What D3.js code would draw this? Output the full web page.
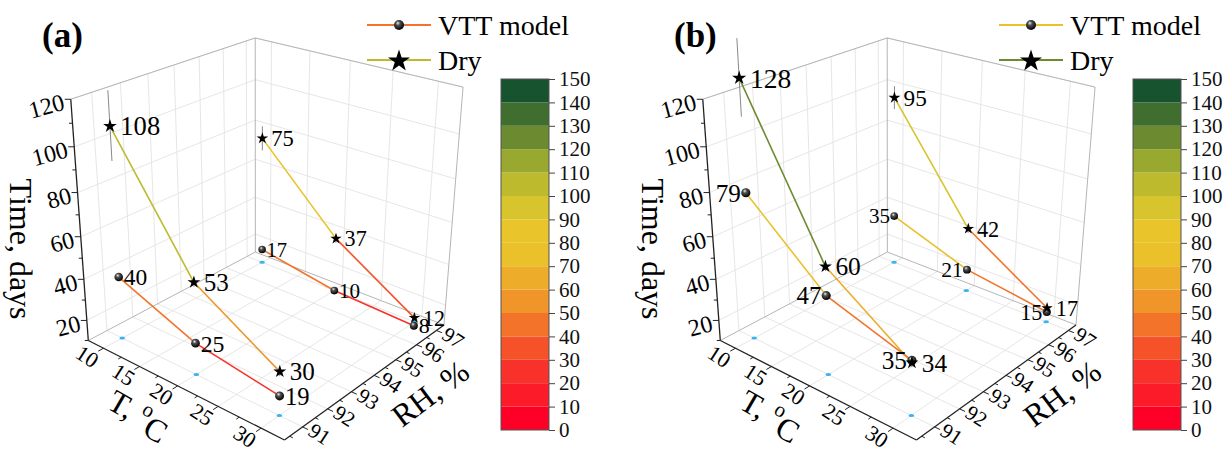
<!DOCTYPE html>
<html>
<head>
<meta charset="utf-8">
<script src="https://cdn.jsdelivr.net/npm/d3@7"></script>
<style>
  html, body { margin: 0; padding: 0; background: #fff; }
  svg { display: block; }
  svg text { font-family: "Times New Roman", Times, "Liberation Serif", Tinos, "DejaVu Serif", "Noto Serif", serif; }
</style>
</head>
<body>
<div id="chart"></div>
<script>
// ---- data -------------------------------------------------------------
const tempC = [10, 20, 30];          // T, °C
const rhLevels = [91, 97];           // RH, %  (one line per level)

// panel (a)
const dryA = [[108, 53, 30], [75, 37, 12]];
const vttA = [[40, 25, 19], [17, 10, 8]];
const dryErrA = [[15, 2, 2], [6, 2, 1]];
// panel (b)
const dryB = [[128, 60, 34], [95, 42, 17]];
const vttB = [[79, 47, 35], [35, 21, 15]];
const dryErrB = [[16, 2, 2], [5.5, 2, 1]];

const tTicks = [10, 15, 20, 25, 30];
const tMinor = [12.5, 17.5, 22.5, 27.5];
const rhTicks = [91, 92, 93, 94, 95, 96, 97];
const rhMinor = [90.5, 91.5, 92.5, 93.5, 94.5, 95.5, 96.5];
const timeTicks = [20, 40, 60, 80, 100, 120];
const timeMinor = [10, 30, 50, 70, 90, 110];
const colorTicks = d3.range(0, 151, 10);
const colorLevels = ["#fe0027", "#fb1b29", "#f8322a", "#f5522a", "#f3732b",
  "#ef952a", "#edad2b", "#eac12b", "#e9c52b", "#d8c42c",
  "#bdba2d", "#99a82f", "#6c8a2f", "#3f6e2f", "#16532e"];

// ---- layout -----------------------------------------------------------
const W = 1232, H = 452;
const tDomain = [7.8, 32.6], rhDomain = [90.3, 97.4], zDomain = [10, 120];

// screen position of the visible box corners (panel a) in unit-cube coords
const boxCorners = [
  [[0, 0, 0], [88.3, 340.5]],
  [[1, 0, 0], [284.5, 440]],
  [[1, 1, 0], [444, 325]],
  [[0, 1, 0], [255.3, 252]],
  [[0, 0, 1], [70.7, 99.3]],
  [[0, 1, 1], [255.3, 38]],
  [[1, 1, 1], [463, 87]]
];

const colorScale = d3.scaleThreshold()
  .domain(d3.range(10, 150, 10))
  .range(colorLevels);

const sT = d3.scaleLinear().domain(tDomain).range([0, 1]);
const sRH = d3.scaleLinear().domain(rhDomain).range([0, 1]);
const sZ = d3.scaleLinear().domain(zDomain).range([0, 1]);

// perspective camera fitted to the box corners (least squares DLT)
function fitCamera(pairs) {
  const cx = 270, cy = 250, k = 200;
  const rows = [], rhs = [];
  pairs.forEach(([[u, v, w], [px, py]]) => {
    const x = (px - cx) / k, y = (py - cy) / k;
    rows.push([u, v, w, 1, 0, 0, 0, 0, -x * u, -x * v, -x * w]); rhs.push(x);
    rows.push([0, 0, 0, 0, u, v, w, 1, -y * u, -y * v, -y * w]); rhs.push(y);
  });
  const n = 11;
  const M = d3.range(n).map(i => d3.range(n + 1).map(j =>
    d3.sum(rows, (r, q) => r[i] * (j < n ? r[j] : rhs[q]))));
  for (let c = 0; c < n; c++) {
    let p = c;
    for (let r = c + 1; r < n; r++) if (Math.abs(M[r][c]) > Math.abs(M[p][c])) p = r;
    [M[c], M[p]] = [M[p], M[c]];
    for (let r = 0; r < n; r++) {
      if (r === c) continue;
      const f = M[r][c] / M[c][c];
      for (let j = c; j <= n; j++) M[r][j] -= f * M[c][j];
    }
  }
  const p = M.map((r, i) => r[n] / r[i]);
  return (u, v, w) => {
    const d = p[8] * u + p[9] * v + p[10] * w + 1;
    return [cx + k * (p[0] * u + p[1] * v + p[2] * w + p[3]) / d,
            cy + k * (p[4] * u + p[5] * v + p[6] * w + p[7]) / d];
  };
}
const camera = fitCamera(boxCorners);
const P = (t, rh, z) => camera(sT(t), sRH(rh), sZ(z));
// local depth scale (pixels per day relative to a reference)
const depth = (t, rh, z) => {
  const a = P(t, rh, z), b = P(t, rh, z + 1);
  return Math.hypot(b[0] - a[0], b[1] - a[1]) / 2.05;
};

const [tMin, tMax] = tDomain, [rhMin, rhMax] = rhDomain, [zMin, zMax] = zDomain;
const line = d3.line();

const svg = d3.select("#chart").append("svg")
  .attr("width", W).attr("height", H)
  .attr("viewBox", `0 0 ${W} ${H}`);

const grad = svg.append("defs").append("radialGradient")
  .attr("id", "ball").attr("cx", "42%").attr("cy", "38%").attr("r", "62%")
  .attr("fx", "38%").attr("fy", "30%");
grad.append("stop").attr("offset", "0%").attr("stop-color", "#f0f0f0");
grad.append("stop").attr("offset", "35%").attr("stop-color", "#505050");
grad.append("stop").attr("offset", "100%").attr("stop-color", "#000");

const panels = [
  { id: "(a)", dx: 0, dry: dryA, vtt: vttA, dryErr: dryErrA, vttSide: "right" },
  { id: "(b)", dx: 632, dry: dryB, vtt: vttB, dryErr: dryErrB, vttSide: "left" }
];

panels.forEach(drawPanel);

function seg(g, a, b, color, width) {
  g.append("path").attr("d", line([a, b]))
    .attr("fill", "none").attr("stroke", color).attr("stroke-width", width);
}

function tickDir(a, b, len) {
  const dx = b[0] - a[0], dy = b[1] - a[1], l = Math.hypot(dx, dy);
  return [a[0] + dx / l * len, a[1] + dy / l * len];
}

function drawPanel(cfg) {
  const g = svg.append("g").attr("transform", `translate(${cfg.dx},0)`);
  const grid = g.append("g");
  const gridColor = "#e3e3e3";

  // floor grid
  tTicks.forEach(t => seg(grid, P(t, rhMin, zMin), P(t, rhMax, zMin), gridColor, 0.9));
  rhTicks.forEach(r => seg(grid, P(tMin, r, zMin), P(tMax, r, zMin), gridColor, 0.9));
  // left wall (T = min)
  rhTicks.forEach(r => seg(grid, P(tMin, r, zMin), P(tMin, r, zMax), gridColor, 0.9));
  timeTicks.forEach(z => seg(grid, P(tMin, rhMin, z), P(tMin, rhMax, z), gridColor, 0.9));
  // right wall (RH = max)
  tTicks.forEach(t => seg(grid, P(t, rhMax, zMin), P(t, rhMax, zMax), gridColor, 0.9));
  timeTicks.forEach(z => seg(grid, P(tMin, rhMax, z), P(tMax, rhMax, z), gridColor, 0.9));

  // box frame
  const frame = "#b5b5b5";
  seg(grid, P(tMin, rhMin, zMin), P(tMin, rhMax, zMin), frame, 1);
  seg(grid, P(tMin, rhMax, zMin), P(tMax, rhMax, zMin), frame, 1);
  seg(grid, P(tMin, rhMax, zMin), P(tMin, rhMax, zMax), frame, 1);
  seg(grid, P(tMax, rhMax, zMin), P(tMax, rhMax, zMax), frame, 1);
  seg(grid, P(tMin, rhMin, zMax), P(tMin, rhMax, zMax), frame, 1);
  seg(grid, P(tMin, rhMax, zMax), P(tMax, rhMax, zMax), frame, 1);

  // axes
  const axes = g.append("g");
  seg(axes, P(tMin, rhMin, zMin), P(tMax, rhMin, zMin), "#222", 1.3);
  seg(axes, P(tMax, rhMin, zMin), P(tMax, rhMax, zMin), "#222", 1.3);
  seg(axes, P(tMin, rhMin, zMin), P(tMin, rhMin, zMax), "#222", 1.3);

  // T axis ticks and labels
  tTicks.concat(tMinor).forEach(t => {
    const a = P(t, rhMin, zMin);
    const b = tickDir(a, P(t, rhMin - 1, zMin), tTicks.includes(t) ? 6 : 3.5);
    seg(axes, a, b, "#222", 1);
  });
  tTicks.forEach(t => {
    const a = P(t, rhMin, zMin);
    axes.append("text")
      .attr("transform", `translate(${a[0] - 16},${a[1] + 8}) rotate(33)`)
      .attr("text-anchor", "middle").attr("dy", "0.35em")
      .attr("font-size", 22).text(t);
  });
  // RH axis ticks and labels
  rhTicks.concat(rhMinor).forEach(r => {
    const a = P(tMax, r, zMin);
    const b = tickDir(a, P(tMax + 2, r, zMin), rhTicks.includes(r) ? 6 : 3.5);
    seg(axes, a, b, "#222", 1);
  });
  rhTicks.forEach(r => {
    const a = P(tMax, r, zMin);
    axes.append("text")
      .attr("transform", `translate(${a[0] + 17},${a[1] + 7}) rotate(33)`)
      .attr("text-anchor", "middle").attr("dy", "0.35em")
      .attr("font-size", 21).text(r);
  });
  // Time axis ticks and labels
  timeTicks.concat(timeMinor).forEach(z => {
    const a = P(tMin, rhMin, z);
    seg(axes, a, [a[0] - (timeTicks.includes(z) ? 6 : 3.5), a[1]], "#222", 1);
  });
  timeTicks.forEach(z => {
    const a = P(tMin, rhMin, z);
    axes.append("text")
      .attr("transform", `translate(${a[0] - 7},${a[1] + 2}) rotate(-15)`)
      .attr("text-anchor", "end").attr("dy", "0.35em")
      .attr("font-size", 24).text(z);
  });

  // axis titles
  const tt = P(17.5, rhMin, zMin);
  const tTitle = axes.append("text")
    .attr("transform", `translate(${tt[0] - 19},${tt[1] + 38}) rotate(30)`)
    .attr("text-anchor", "middle").attr("dy", "0.35em").attr("font-size", 32);
  tTitle.append("tspan").text("T, ");
  tTitle.append("tspan").attr("font-size", 21).attr("dy", "-0.6em").text("o");
  tTitle.append("tspan").attr("dy", "0.55em").text("C");

  const rt = P(tMax, 95.3, zMin);
  axes.append("text")
    .attr("transform", `translate(${rt[0] + 28},${rt[1] + 38}) rotate(-37)`)
    .attr("text-anchor", "middle").attr("dy", "0.35em").attr("font-size", 32)
    .text("RH, %");

  axes.append("text")
    .attr("transform", "translate(21,249) rotate(90)")
    .attr("text-anchor", "middle").attr("dy", "0.35em").attr("font-size", 32)
    .text("Time, days");

  // floor projections of the measurement points
  const marks = g.append("g");
  rhLevels.forEach(r => tempC.forEach(t => {
    const p = P(t, r, zMin);
    marks.append("ellipse").attr("cx", p[0]).attr("cy", p[1])
      .attr("rx", 2.8).attr("ry", 1.5).attr("fill", "#38b2f2");
  }));

  // error bars (dry)
  cfg.dry.forEach((vals, i) => vals.forEach((z, j) => {
    const e = cfg.dryErr[i][j];
    seg(marks, P(tempC[j], rhLevels[i], z - e), P(tempC[j], rhLevels[i], z + e), "#7a7a7a", 0.9);
  }));

  // lines, coloured by the colour map
  cfg.dry.forEach((vals, i) => d3.pairs(vals).forEach(([z0, z1], j) => {
    seg(marks, P(tempC[j], rhLevels[i], z0), P(tempC[j + 1], rhLevels[i], z1), colorScale(z0), 1.6);
  }));
  // the VTT lines share the colouring of the 91 % series
  cfg.vtt.forEach((vals, i) => d3.pairs(vals).forEach(([z0, z1], j) => {
    seg(marks, P(tempC[j], rhLevels[i], z0), P(tempC[j + 1], rhLevels[i], z1), colorScale(cfg.vtt[0][j]), 1.6);
  }));

  // markers and value labels
  cfg.vtt.forEach((vals, i) => vals.forEach((z, j) => {
    const p = P(tempC[j], rhLevels[i], z), s = depth(tempC[j], rhLevels[i], z);
    marks.append("circle").attr("cx", p[0]).attr("cy", p[1]).attr("r", 4.2 * s)
      .attr("fill", "url(#ball)");
    const left = cfg.vttSide === "left";
    marks.append("text")
      .attr("x", left ? p[0] - 4.5 * s : p[0] + 5 * s).attr("y", p[1])
      .attr("text-anchor", left ? "end" : "start").attr("dy", "0.35em")
      .attr("font-size", 23 * s).text(z);
  }));
  cfg.dry.forEach((vals, i) => vals.forEach((z, j) => {
    const p = P(tempC[j], rhLevels[i], z), s = depth(tempC[j], rhLevels[i], z);
    const r = 6.2 * s;
    marks.append("path")
      .attr("d", d3.symbol(d3.symbolStar, r * r / 0.8908130915292852)())
      .attr("transform", `translate(${p[0]},${p[1]})`).attr("fill", "#000");
    marks.append("text")
      .attr("x", p[0] + 9 * s).attr("y", p[1])
      .attr("dy", "0.35em").attr("font-size", 23 * s).text(z);
  }));

  // panel tag
  g.append("text").attr("x", 42).attr("y", 47)
    .attr("font-size", 35).attr("font-weight", "bold").text(cfg.id);

  // legend
  const lg = g.append("g");
  const legendItems = [
    { name: "VTT model", y: 25, color: colorScale(cfg.vtt[0][0]), kind: "ball" },
    { name: "Dry", y: 60, color: colorScale(cfg.dry[0][0]), kind: "star" }
  ];
  legendItems.forEach(d => {
    seg(lg, [367, d.y], [431, d.y], d.color, 1.8);
    if (d.kind === "ball") {
      lg.append("circle").attr("cx", 399).attr("cy", d.y).attr("r", 5).attr("fill", "url(#ball)");
    } else {
      lg.append("path").attr("d", d3.symbol(d3.symbolStar, 151)())
        .attr("transform", `translate(399,${d.y + 1})`).attr("fill", "#000");
    }
    lg.append("text").attr("x", 438).attr("y", d.y).attr("dy", "0.35em")
      .attr("font-size", 28).text(d.name);
  });

  // colour bar
  const cy = d3.scaleLinear().domain([0, 150]).range([430, 79]);
  const cb = g.append("g").attr("transform", "translate(501,0)");
  const cbW = 48;
  cb.selectAll("rect").data(colorLevels).join("rect")
    .attr("x", 0).attr("width", cbW)
    .attr("y", (d, i) => cy((i + 1) * 10))
    .attr("height", (d, i) => cy(i * 10) - cy((i + 1) * 10))
    .attr("fill", d => d);
  cb.append("rect").attr("width", cbW).attr("y", cy(150)).attr("height", cy(0) - cy(150))
    .attr("fill", "none").attr("stroke", "#555").attr("stroke-width", 1);
  const ax = cb.append("g").attr("transform", `translate(${cbW},0)`)
    .call(d3.axisRight(cy).tickValues(colorTicks).tickSize(6).tickPadding(4).tickFormat(d3.format("d")));
  ax.attr("font-family", null);
  ax.select(".domain").remove();
  ax.selectAll("line").attr("stroke", "#444");
  ax.selectAll("text").attr("font-size", 21).attr("fill", "#111");
}
</script>
</body>
</html>
